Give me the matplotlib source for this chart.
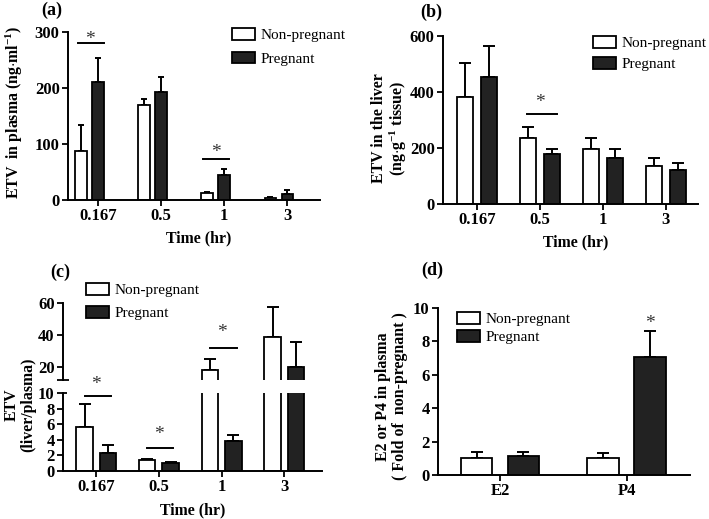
import matplotlib
matplotlib.use("Agg")
import matplotlib.pyplot as plt
from matplotlib.patches import Patch

plt.rcParams['font.family'] = ['Liberation Serif', 'DejaVu Serif']
plt.rcParams['mathtext.fontset'] = 'custom'
plt.rcParams['mathtext.rm'] = 'Liberation Serif:bold'
plt.rcParams['mathtext.default'] = 'rm'
plt.rcParams['axes.linewidth'] = 1.4

# ---- data ----
times = ['0.167', '0.5', '1', '3']
hormones = ['E2', 'P4']

plasma_np = [88, 170, 12, 4]
plasma_np_err = [46, 10, 3, 2]
plasma_p = [210, 192, 45, 10]
plasma_p_err = [44, 27, 10, 7]

liver_np = [383, 235, 196, 136]
liver_np_err = [119, 39, 41, 28]
liver_p = [452, 177, 163, 123]
liver_p_err = [113, 19, 33, 22]

ratio_np = [5.7, 1.4, 18.0, 38.6]
ratio_np_err = [2.9, 0.2, 7.0, 19.0]
ratio_p = [2.3, 1.0, 3.9, 20.0]
ratio_p_err = [1.0, 0.1, 0.7, 16.0]

fold_np = [1.04, 1.04]
fold_np_err = [0.36, 0.26]
fold_p = [1.14, 7.04]
fold_p_err = [0.22, 1.56]

# significance bars: (group, x0, x1, y) and stars (group, dx, y)
sig_a = [(0, -0.32, 0.095, 280), (2, -0.33, 0.08, 73)]
star_a = [(0, -0.13, 298), (2, -0.13, 95)]
sig_b = [(1, -0.2, 0.27, 321)]
star_b = [(1, 0.0, 382)]
sig_c_low = [(0, -0.18, 0.24, 9.6), (1, -0.19, 0.22, 2.95)]
star_c_low = [(0, 0.0, 11.8), (1, 0.0, 5.4)]
sig_c_up = [(2, -0.18, 0.24, 32.2)]
star_c_up = [(2, 0.0, 45.2)]
star_d = [(1, 0.185, 9.4)]

W, H = 709, 519
fig = plt.figure(figsize=(W / 100, H / 100), dpi=100)

DARK = '#222222'
labfont = dict(fontsize=11.4, fontweight='bold')


def px_axes(left, top, right, bottom):
    return fig.add_axes([left / W, 1 - bottom / H, (right - left) / W, (bottom - top) / H])


def style(ax):
    ax.spines['top'].set_visible(False)
    ax.spines['right'].set_visible(False)
    ax.tick_params(direction='out', length=4, width=1.3, pad=2)
    for t in ax.get_xticklabels() + ax.get_yticklabels():
        t.set_fontsize(12)
        t.set_fontweight('bold')


def bars(ax, xs_np, xs_p, np_v, np_e, p_v, p_e, width, cap):
    ax.bar(xs_np, np_v, width, color='white', edgecolor='black', linewidth=1.3, zorder=2)
    ax.bar(xs_p, p_v, width, color=DARK, edgecolor='black', linewidth=1.3, zorder=2)
    ax.errorbar(xs_np, np_v, yerr=[[0] * len(np_v), np_e], fmt='none', ecolor='black',
                elinewidth=1.4, capsize=cap, capthick=1.4, zorder=1)
    ax.errorbar(xs_p, p_v, yerr=[[0] * len(p_v), p_e], fmt='none', ecolor='black',
                elinewidth=1.4, capsize=cap, capthick=1.4, zorder=1)


def sig(ax, lines, stars):
    for g, x0, x1, y in lines:
        ax.plot([g + x0, g + x1], [y, y], color='black', lw=1.4, clip_on=False)
    for g, dx, y in stars:
        ax.annotate('*', (g + dx, y), xytext=(0, -7.5), textcoords='offset points',
                    ha='center', va='baseline', fontsize=14, color='#333333',
                    annotation_clip=False)


def legend(ax, x, y, spacing):
    handles = [Patch(facecolor='white', edgecolor='black', linewidth=1.3),
               Patch(facecolor=DARK, edgecolor='black', linewidth=1.3)]
    ax.legend(handles, ['Non-pregnant', 'Pregnant'], loc='upper left',
              bbox_to_anchor=(x / W, 1 - y / H), bbox_transform=fig.transFigure,
              frameon=False, fontsize=11, handlelength=1.5, handleheight=0.8,
              handletextpad=0.4, labelspacing=spacing, borderpad=0, borderaxespad=0)


# ---- (a) ----
ax = px_axes(68, 32, 320, 200)
xa = list(range(len(times)))
bars(ax, [x - 0.27 for x in xa], xa, plasma_np, plasma_np_err, plasma_p, plasma_p_err, 0.18, 2.5)
ax.set_xlim(-0.476, 3.52)
ax.set_ylim(0, 300)
ax.set_yticks([0, 100, 200, 300])
ax.set_xticks(xa)
ax.set_xticklabels(times)
sig(ax, sig_a, star_a)
style(ax)
ax.set_xlabel('Time (hr)', **labfont)
ax.xaxis.set_label_coords(0.52, -0.18)
ax.set_ylabel('ETV  in plasma (ng$\\cdot$ml$^{-1}$)', **labfont)
ax.yaxis.set_label_coords(-0.17, 0.52)
legend(ax, 232, 28, 0.63)
fig.text(52 / W, 1 - 10 / H, '(a)', ha='center', va='center', fontsize=13, fontweight='bold')

# ---- (b) ----
ax = px_axes(443, 36, 698, 204)
bars(ax, [x - 0.19 for x in xa], [x + 0.19 for x in xa], liver_np, liver_np_err,
     liver_p, liver_p_err, 0.26, 4)
ax.set_xlim(-0.54, 3.51)
ax.set_ylim(0, 600)
ax.set_yticks([0, 200, 400, 600])
ax.set_xticks(xa)
ax.set_xticklabels(times)
sig(ax, sig_b, star_b)
style(ax)
ax.set_xlabel('Time (hr)', **labfont)
ax.xaxis.set_label_coords(0.52, -0.18)
ax.set_ylabel('ETV in the liver\n(ng$\\cdot$g$^{-1}$ tissue)', linespacing=1.05, **labfont)
ax.yaxis.set_label_coords(-0.135, 0.45)
legend(ax, 593, 36, 0.44)
fig.text(431 / W, 1 - 12 / H, '(b)', ha='center', va='center', fontsize=13, fontweight='bold')

# ---- (c) broken axis ----
axl = px_axes(63, 393, 322, 471)
axu = px_axes(63, 303, 322, 380)
axu.patch.set_visible(False)
for a in (axl, axu):
    bars(a, [x - 0.187 for x in xa], [x + 0.187 for x in xa], ratio_np, ratio_np_err,
         ratio_p, ratio_p_err, 0.263, 4)
    a.set_xlim(-0.53, 3.6)
axl.set_ylim(0, 10)
axl.set_yticks([0, 2, 4, 6, 8, 10])
axl.set_xticks(xa)
axl.set_xticklabels(times)
axu.set_ylim(12, 60)
axu.set_yticks([20, 40, 60])
axu.set_yticklabels(['20', '40', '60'])
axu.set_xticks([])
axu.spines['bottom'].set_visible(False)
sig(axl, sig_c_low, star_c_low)
sig(axu, sig_c_up, star_c_up)
style(axl)
style(axu)
# break marks at the ends of the two spines
axu.yaxis.remove_overlapping_locs = False
axl.yaxis.remove_overlapping_locs = False
axu.set_yticks([12], minor=True)
axu.tick_params(axis='y', which='minor', direction='inout', length=8, width=1.3)
axl.set_yticks([10], minor=True)
axl.tick_params(axis='y', which='minor', direction='in', length=3, width=1.3)
axl.set_xlabel('Time (hr)', **labfont)
axl.xaxis.set_label_coords(0.5, -0.4)
fig.text(20 / W, 1 - 405 / H, 'ETV\n(liver/plasma)', rotation=90, ha='center', va='center',
         multialignment='center', linespacing=1.05, **labfont)
legend(axu, 86, 283, 0.57)
fig.text(60 / W, 1 - 272 / H, '(c)', ha='center', va='center', fontsize=13, fontweight='bold')

# ---- (d) ----
ax = px_axes(438, 308, 690, 475)
xd = list(range(len(hormones)))
bars(ax, [x - 0.185 for x in xd], [x + 0.185 for x in xd], fold_np, fold_np_err,
     fold_p, fold_p_err, 0.25, 4.5)
ax.set_xlim(-0.49, 1.5)
ax.set_ylim(0, 10)
ax.set_yticks([0, 2, 4, 6, 8, 10])
ax.set_xticks(xd)
ax.set_xticklabels(hormones)
for g, dx, y in star_d:
    ax.annotate('*', (g + dx, y), xytext=(0, -7.5), textcoords='offset points',
                ha='center', va='baseline', fontsize=14, color='#333333')
style(ax)
ax.set_ylabel('E2 or P4 in plasma\n( Fold of  non-pregnant )', linespacing=1.1, **labfont)
ax.yaxis.set_label_coords(-0.12, 0.47)
legend(ax, 457, 312, 0.24)
fig.text(432 / W, 1 - 270 / H, '(d)', ha='center', va='center', fontsize=13, fontweight='bold')

fig.savefig('out.png', dpi=100)
